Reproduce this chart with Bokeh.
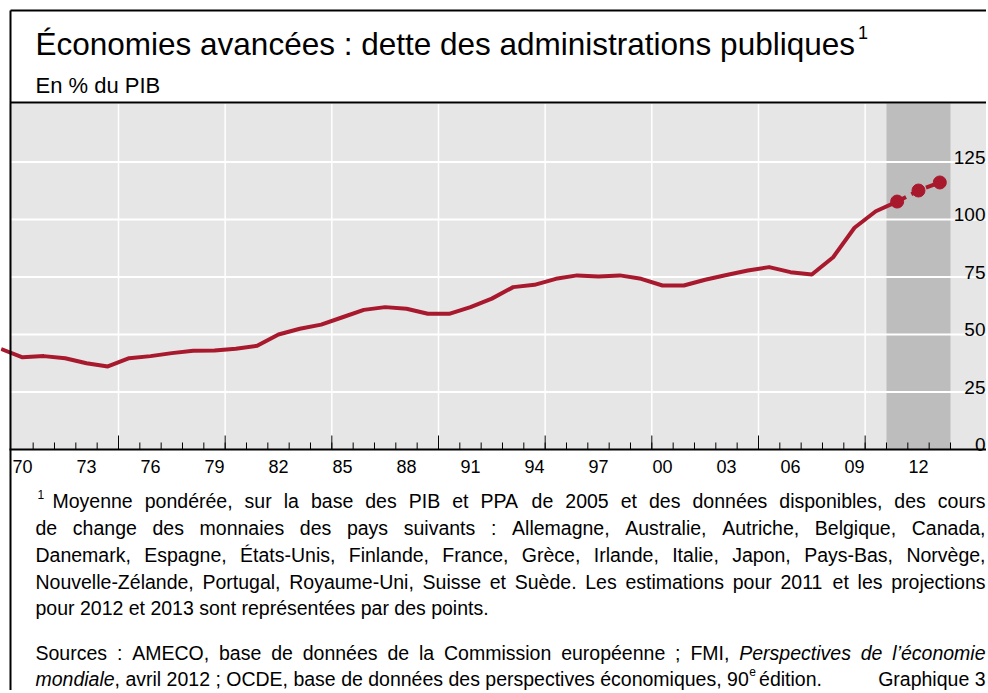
import unicodedata
from bokeh.plotting import figure
from bokeh.models import Range1d
from bokeh.embed import file_html
from bokeh.resources import INLINE
from bokeh.core.properties import value

# ---------------- data ----------------
years_hist = list(range(1969, 2012))
debt_hist = [43.7, 40.1, 40.6, 39.7, 37.5, 36.1, 39.7, 40.6, 41.9, 42.9,
             43.0, 43.8, 45.1, 50.0, 52.5, 54.3, 57.5, 60.7, 61.9, 61.2,
             59.0, 59.0, 61.9, 65.6, 70.6, 71.6, 74.2, 75.7, 75.2, 75.7,
             74.2, 71.3, 71.3, 73.8, 75.9, 77.8, 79.3, 77.1, 76.1, 83.6,
             96.4, 103.6, 107.8]
years_proj = [2011, 2012, 2013]
debt_proj = [107.8, 112.6, 116.1]
shade_years = [2011, 2013]

x_label_years = [1970, 1973, 1976, 1979, 1982, 1985, 1988, 1991, 1994,
                 1997, 2000, 2003, 2006, 2009, 2012]
x_labels = ["70", "73", "76", "79", "82", "85", "88", "91", "94",
            "97", "00", "03", "06", "09", "12"]
y_ticks = [0, 25, 50, 75, 100, 125]
y_labels = ["0", "25", "50", "75", "100", "125"]

TITLE = "Économies avancées : dette des administrations publiques"
SUBTITLE = "En % du PIB"
NOTE_LINES = [
    "Moyenne pondérée, sur la base des PIB et PPA de 2005 et des données disponibles, des cours",
    "de change des monnaies des pays suivants : Allemagne, Australie, Autriche, Belgique, Canada,",
    "Danemark, Espagne, États-Unis, Finlande, France, Grèce, Irlande, Italie, Japon, Pays-Bas, Norvège,",
    "Nouvelle-Zélande, Portugal, Royaume-Uni, Suisse et Suède. Les estimations pour 2011 et les projections",
    "pour 2012 et 2013 sont représentées par des points.",
]
SRC1_REG = "Sources : AMECO, base de données de la Commission européenne ; FMI,"
SRC1_ITAL = "Perspectives de l’économie"
SRC2_ITAL = "mondiale"
SRC2_REG = ", avril 2012 ; OCDE, base de données des perspectives économiques, 90"
SRC2_SUP = "e"
SRC2_END = "édition."
GRAPH_NO = "Graphique 3"

# ---------------- style / layout ----------------
RED = "#A8192E"
BG = "#E6E6E6"
SHADE = "#BDBDBD"
FONT = "Liberation Sans"
W, H = 986, 690          # canvas
PXY = 21.333             # pixels per year
PXV = 2.3                # pixels per percentage point
X_ORG, Y_ORG = 22, 449   # canvas pixel of (1970, 0)
PLOT_L, PLOT_T = 9, 103  # plot panel left / top (canvas px)

# Arial / Liberation Sans advance widths (1/1000 em)
AW = {' ': 278, 'a': 556, 'b': 556, 'c': 500, 'd': 556, 'e': 556, 'f': 278, 'g': 556,
      'h': 556, 'i': 222, 'j': 222, 'k': 500, 'l': 222, 'm': 833, 'n': 556, 'o': 556,
      'p': 556, 'q': 556, 'r': 333, 's': 500, 't': 278, 'u': 556, 'v': 500, 'w': 722,
      'x': 500, 'y': 500, 'z': 500, 'A': 667, 'B': 667, 'C': 722, 'D': 722, 'E': 667,
      'F': 611, 'G': 778, 'H': 722, 'I': 278, 'J': 500, 'K': 667, 'L': 556, 'M': 833,
      'N': 722, 'O': 778, 'P': 667, 'Q': 778, 'R': 722, 'S': 667, 'T': 611, 'U': 722,
      'V': 667, 'W': 944, 'X': 667, 'Y': 667, 'Z': 611, ',': 278, '.': 278, ':': 278,
      ';': 278, '-': 333, '’': 222, "'": 191, '%': 889}


def wpx(s, fs):
    tot = 0
    for c in s:
        b = unicodedata.normalize("NFD", c)[0]
        tot += AW.get(b, 556)
    return tot / 1000.0 * fs


def justify(words, left, right, fs):
    widths = [wpx(w, fs) for w in words]
    gap = (right - left - sum(widths)) / (len(words) - 1)
    xs, x = [], left
    for w in widths:
        xs.append(x)
        x += w + gap
    return xs


def X(px):  # canvas px -> year coordinate
    return 1970 + (px - X_ORG) / PXY


def Y(py):  # canvas px -> value coordinate
    return (Y_ORG - py) / PXV


p = figure(width=W, height=H, x_range=Range1d(X(0), X(W)), y_range=Range1d(Y(H), Y(0)),
           output_backend="svg", toolbar_location=None, x_axis_type=None,
           y_axis_type=None, min_border=0, min_border_left=0, min_border_right=0,
           min_border_top=0, min_border_bottom=0)
p.outline_line_color = None
p.background_fill_color = "white"
p.border_fill_color = "white"

TOP_V = Y(PLOT_T)
XL, XR = X(PLOT_L), X(W)

# plot panel background + projection shading
p.quad(left=[XL], right=[XR], bottom=[0], top=[TOP_V], color=BG, line_color=None)
p.quad(left=[shade_years[0] - 0.5], right=[shade_years[1] + 0.5], bottom=[0],
       top=[TOP_V], color=SHADE, line_color=None)

first_b, last_b = x_label_years[0] + 0.5, shade_years[1] + 0.5
bounds = [first_b + k for k in range(int(last_b - first_b) + 1)]
major_bounds = [b for b in bounds if (b - 4.5) % 5 == 0 and b < shade_years[0]]

# grid
p.segment(x0=major_bounds, y0=0, x1=major_bounds, y1=TOP_V, line_color="white",
          line_width=1.5)
p.segment(x0=XL, y0=y_ticks[1:], x1=XR, y1=y_ticks[1:], line_color="white",
          line_width=2)

# x axis: line, year ticks, 5-year ticks, labels
p.segment(x0=bounds, y0=0, x1=bounds, y1=7 / PXV, line_color="black", line_width=1)
p.segment(x0=major_bounds, y0=0, x1=major_bounds, y1=14 / PXV, line_color="black",
          line_width=1)
p.segment(x0=[XL], y0=[0], x1=[XR], y1=[0], line_color="black", line_width=2)
p.text(x=x_label_years, y=Y(466), text=x_labels, text_align="center",
       text_baseline="middle", text_font=value(FONT), text_font_size="18px",
       text_color="black")

# y labels (inside, right)
p.text(x=X(W - 1), y=y_ticks, text=y_labels, y_offset=-5, text_align="right",
       text_baseline="alphabetic", text_font=value(FONT), text_font_size="19px",
       text_color="black")

# data
p.line(years_hist, debt_hist, line_color=RED, line_width=4, line_join="round")
p.line(years_proj, debt_proj, line_color=RED, line_width=4, line_dash="10 6")
p.scatter(years_proj, debt_proj, size=13, color=RED)

# frame lines (left border, top border, header separator)
p.segment(x0=[X(10), X(10), X(10)], y0=[Y(10), Y(10), Y(102)],
          x1=[X(10), XR, XR], y1=[Y(H), Y(10), Y(102)],
          line_color="black", line_width=2)

# header
TFS = 31.5
p.text(x=[X(35)], y=[Y(43)], text=[TITLE], text_font=value(FONT),
       text_font_size=f"{TFS}px", text_baseline="middle", text_align="left",
       text_color="black")
p.text(x=[X(35 + wpx(TITLE, TFS) + 3)], y=[Y(32)], text=["1"], text_font=value(FONT),
       text_font_size="18px", text_baseline="middle", text_align="left",
       text_color="black")
p.text(x=[X(35)], y=[Y(85)], text=[SUBTITLE], text_font=value(FONT),
       text_font_size="22px", text_baseline="middle", text_align="left",
       text_color="black")

# footer
FS = 19.5
L, R = 35, 985
line_y = [500, 527, 554, 581, 607]
p.text(x=[X(37)], y=[Y(494)], text=["1"], text_font=value(FONT), text_font_size="12px",
       text_baseline="middle", text_color="black")
xs, ys, ts = [], [], []
for i, ln in enumerate(NOTE_LINES):
    words = ln.split(" ")
    left = 52 if i == 0 else L
    if i < len(NOTE_LINES) - 1:
        pos = justify(words, left, R, FS)
    else:
        pos, x = [], left
        for w in words:
            pos.append(x)
            x += wpx(w + " ", FS)
    xs += pos
    ys += [line_y[i]] * len(words)
    ts += words

SY1, SY2 = 652, 678
s1_reg = SRC1_REG.split(" ")
s1_it = SRC1_ITAL.split(" ")
pos = justify(s1_reg + s1_it, L, R, FS)
xs += pos[:len(s1_reg)]
ys += [SY1] * len(s1_reg)
ts += s1_reg
ix, iy, it = pos[len(s1_reg):], [SY1] * len(s1_it), list(s1_it)

ix.append(L)
iy.append(SY2)
it.append(SRC2_ITAL)
xr = L + wpx(SRC2_ITAL, FS)
xs.append(xr)
ys.append(SY2)
ts.append(SRC2_REG)
xe = xr + wpx(SRC2_REG, FS)
xs.append(xe + wpx(" ", FS) + 5)
ys.append(SY2)
ts.append(SRC2_END)

p.text(x=[X(v) for v in xs], y=[Y(v) for v in ys], text=ts, text_font=value(FONT),
       text_font_size=f"{FS}px", text_baseline="middle", text_align="left",
       text_color="black")
p.text(x=[X(v) for v in ix], y=[Y(v) for v in iy], text=it, text_font=value(FONT),
       text_font_size=f"{FS}px", text_font_style="italic", text_baseline="middle",
       text_align="left", text_color="black")
p.text(x=[X(xe + 0.5)], y=[Y(SY2 - 7)], text=[SRC2_SUP], text_font=value(FONT),
       text_font_size="12px", text_baseline="middle", text_align="left",
       text_color="black")
p.text(x=[X(R)], y=[Y(SY2)], text=[GRAPH_NO], text_font=value(FONT),
       text_font_size=f"{FS}px", text_baseline="middle", text_align="right",
       text_color="black")

open("out.html", "w").write(file_html(p, INLINE))
